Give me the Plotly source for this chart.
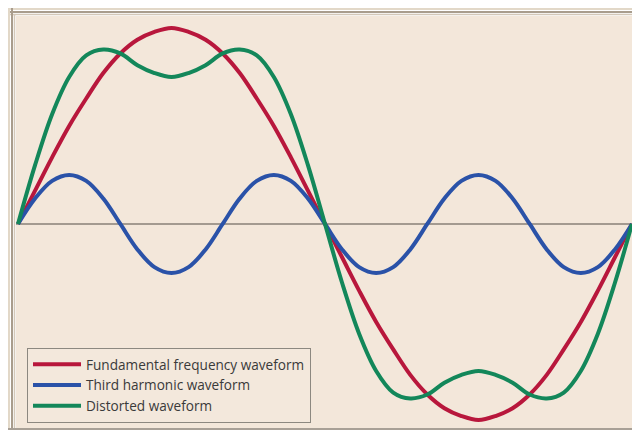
import plotly.graph_objects as go

# Phase angle (degrees) across one period of the fundamental
angle_deg = [0, 10, 20, 30, 40, 50, 60, 70, 80, 90, 100, 110, 120, 130, 140, 150, 160, 170, 180,
             190, 200, 210, 220, 230, 240, 250, 260, 270, 280, 290, 300, 310, 320, 330, 340, 350, 360]

fundamental = [0, 0.17, 0.34, 0.50, 0.64, 0.77, 0.87, 0.94, 0.98, 1.00, 0.98, 0.94, 0.87, 0.77,
               0.64, 0.50, 0.34, 0.17, 0, -0.17, -0.34, -0.50, -0.64, -0.77, -0.87, -0.94, -0.98,
               -1.00, -0.98, -0.94, -0.87, -0.77, -0.64, -0.50, -0.34, -0.17, 0]

third_harmonic = [0, 0.13, 0.22, 0.25, 0.22, 0.13, 0, -0.13, -0.22, -0.25, -0.22, -0.13,
                  0, 0.13, 0.22, 0.25, 0.22, 0.13, 0, -0.13, -0.22, -0.25, -0.22, -0.13,
                  0, 0.13, 0.22, 0.25, 0.22, 0.13, 0, -0.13, -0.22, -0.25, -0.22, -0.13, 0]

distorted = [0, 0.30, 0.56, 0.75, 0.86, 0.89, 0.87, 0.81, 0.77, 0.75, 0.77, 0.81, 0.87, 0.89,
             0.86, 0.75, 0.56, 0.30, 0, -0.30, -0.56, -0.75, -0.86, -0.89, -0.87, -0.81, -0.77,
             -0.75, -0.77, -0.81, -0.87, -0.89, -0.86, -0.75, -0.56, -0.30, 0]

series_names = ["Fundamental frequency waveform", "Third harmonic waveform", "Distorted waveform"]
series_values = [fundamental, third_harmonic, distorted]
series_colors = ["#b8173c", "#2a52a8", "#13875a"]

fig = go.Figure()
for name, vals, col in zip(series_names, series_values, series_colors):
    fig.add_trace(go.Scatter(
        x=angle_deg, y=vals, mode="lines", name=name,
        line=dict(color=col, width=4, shape="spline"),
        hoverinfo="skip",
    ))

W, H = 632, 430
L, R, T, B = 16, 0, 16, 2
pw, ph = W - L - R, H - T - B

def px(p):  # page pixel x -> paper
    return (p - L) / pw

def py(q):  # page pixel y -> paper
    return (H - B - q) / ph

shapes = []
def hline(q, c, w):
    shapes.append(dict(type="line", xref="paper", yref="paper", x0=px(8), x1=px(632),
                       y0=py(q), y1=py(q), line=dict(color=c, width=w), layer="above"))
def vline(p, c, w, q0=8, q1=430):
    shapes.append(dict(type="line", xref="paper", yref="paper", x0=px(p), x1=px(p),
                       y0=py(q0), y1=py(q1), line=dict(color=c, width=w), layer="above"))

hline(9, "#e2d8c8", 2)
hline(12, "#a99d8d", 2)
hline(14.5, "#d4c8b8", 1.5)
vline(9, "#e2d8c8", 2)
vline(12, "#a99d8d", 2)
vline(14.5, "#d4c8b8", 1.5, q0=14)
shapes.append(dict(type="line", xref="paper", yref="paper", x0=px(8), x1=px(632),
                   y0=py(429), y1=py(429), line=dict(color="#a8a096", width=2), layer="above"))

legend_font = dict(family="Open Sans, Liberation Sans, Arial, sans-serif", size=13.6, color="#3a3a3a")

fig.update_layout(
    width=W, height=H,
    margin=dict(l=L, r=R, t=T, b=B, pad=0),
    paper_bgcolor="#ffffff",
    plot_bgcolor="#f3e7da",
    font=legend_font,
    xaxis=dict(range=[-360 * 2 / 614, 360], visible=False, showgrid=False, zeroline=False, fixedrange=True),
    yaxis=dict(range=[-1.041, 1.061], showgrid=False, zeroline=True, zerolinecolor="#a39a90",
               zerolinewidth=1.5, showticklabels=False, ticks="", showline=False, fixedrange=True),
    showlegend=True,
    legend=dict(x=px(27), y=py(348), xanchor="left", yanchor="top",
                bgcolor="#f3e8dc", bordercolor="#8c8880", borderwidth=1,
                itemwidth=48, font=legend_font, tracegroupgap=0),
    shapes=shapes,
)

fig.write_html(
    "out.html",
    config={"displayModeBar": False, "staticPlot": True},
    post_script="document.body.style.margin='0';document.body.style.overflow='hidden';",
)
